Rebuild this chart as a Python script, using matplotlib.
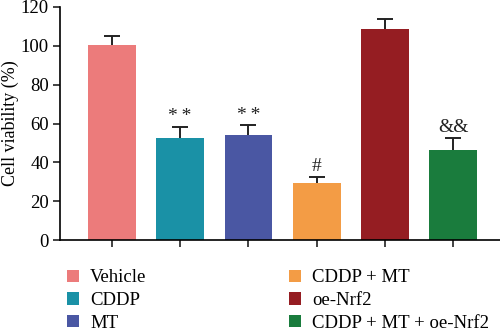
import matplotlib.pyplot as plt
from matplotlib.patches import Patch

# data
groups = ['Vehicle', 'CDDP', 'MT', 'CDDP + MT', 'oe-Nrf2', 'CDDP + MT + oe-Nrf2']
viability = [100.5, 52.5, 54.0, 29.4, 108.8, 46.5]
err = [4.5, 5.5, 5.0, 3.2, 4.9, 6.1]
marks = ['', '*\u2009*', '*\u2009*', '#', '', '&&']
colors = ['#EC7B7B', '#1A91A6', '#4A57A3', '#F39C45', '#951D22', '#1A7C3D']

plt.rcParams['font.family'] = ['Liberation Serif', 'DejaVu Serif']

fig = plt.figure(figsize=(5, 3.33), dpi=100)
ax = fig.add_axes([0.12, 0.279, 0.885, 0.70])

x = list(range(len(groups)))
ax.bar(x, viability, width=0.7, color=colors)
_, caps, _ = ax.errorbar(x, viability, yerr=[[0] * len(err), err], fmt='none',
                         ecolor='#222222', elinewidth=1.4, capsize=5.5, capthick=1.4)
# only keep the upper caps
for c in caps:
    if list(c.get_ydata()) == viability:
        c.set_visible(False)

for xi, v, e, m in zip(x, viability, err, marks):
    if m:
        ax.text(xi, v + e + 1.0, m, ha='center', va='bottom', fontsize=14,
                color='#222222')

ax.set_ylim(0, 120)
ax.set_xlim(-0.76, 5.72)
ax.set_yticks(range(0, 121, 20))
ax.set_xticks(x)
ax.set_xticklabels([])
ax.tick_params(axis='both', labelsize=13.5, width=1.2, length=5, color='#222222', pad=3)
ax.set_ylabel('Cell viability (%)', fontsize=13)
ax.yaxis.set_label_coords(-0.092, 0.5)
ax.spines['top'].set_visible(False)
ax.spines['right'].set_visible(False)
ax.spines['left'].set_linewidth(1.2)
ax.spines['bottom'].set_linewidth(1.2)

handles = [Patch(facecolor=c, edgecolor='none') for c in colors]
fig.legend(handles, groups, ncol=2, loc='lower left', bbox_to_anchor=(0.134, 0.004),
           frameon=False, fontsize=13.5, handlelength=0.64, handleheight=0.64,
           handletextpad=0.6, columnspacing=7.6, labelspacing=0.3,
           borderpad=0, borderaxespad=0)

plt.savefig('out.png', dpi=100)
